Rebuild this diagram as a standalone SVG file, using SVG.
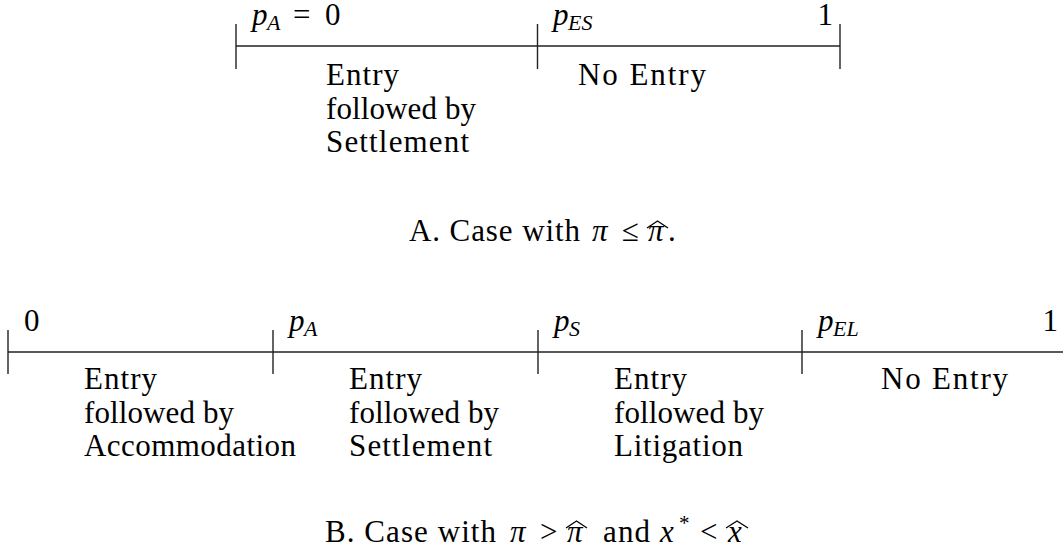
<svg xmlns="http://www.w3.org/2000/svg" width="1063" height="552" viewBox="0 0 1063 552">
<style>
text{font-family:'Liberation Serif';font-size:31px;fill:#000}
.it{font-style:italic}
.sub{font-style:italic;font-size:22px}
.ln{stroke:#222;stroke-width:1.4;fill:none}
.hat{stroke:#000;stroke-width:1.3;fill:none;stroke-linejoin:miter}
</style>
<rect width="1063" height="552" fill="#fff"/>
<g id="connectors">
<line class="ln" x1="236" y1="46" x2="840" y2="46"/>
<line class="ln" x1="236" y1="24" x2="236" y2="69"/>
<line class="ln" x1="537.5" y1="24" x2="537.5" y2="69"/>
<line class="ln" x1="840" y1="24" x2="840" y2="69"/>
<line class="ln" x1="8" y1="352" x2="1063" y2="352"/>
<line class="ln" x1="8" y1="330" x2="8" y2="374"/>
<line class="ln" x1="273" y1="330" x2="273" y2="374"/>
<line class="ln" x1="538" y1="330" x2="538" y2="374"/>
<line class="ln" x1="802" y1="330" x2="802" y2="374"/>
</g>
<g font-family="Liberation Serif">
<g id="topLabels">
<text x="252" y="25"><tspan class="it">p</tspan><tspan class="sub" x="267" dy="5">A</tspan><tspan x="293" dy="-5">=</tspan><tspan x="325">0</tspan></text>
<text x="553" y="25"><tspan class="it">p</tspan><tspan class="sub" x="568" dy="5">ES</tspan></text>
<text x="833" y="25" text-anchor="end">1</text>
</g>
<g id="topSeg1">
<text x="326" y="85" textLength="73" lengthAdjust="spacing">Entry</text>
<text x="326" y="119" textLength="150" lengthAdjust="spacing">followed by</text>
<text x="326" y="152" textLength="143" lengthAdjust="spacing">Settlement</text>
</g>
<g id="topSeg2">
<text x="578" y="85" textLength="128" lengthAdjust="spacing">No Entry</text>
</g>
<g id="captionA">
<text x="409" y="241"><tspan textLength="171" lengthAdjust="spacing">A. Case with</tspan><tspan class="it" x="592">π</tspan><tspan x="622">≤</tspan><tspan class="it" x="648">π</tspan><tspan x="668">.</tspan></text>
<polyline class="hat" points="647,228 657.5,221 668,228"/>
</g>
<g id="bottomLabels">
<text x="24" y="331">0</text>
<text x="289" y="331"><tspan class="it">p</tspan><tspan class="sub" x="304" dy="5">A</tspan></text>
<text x="554" y="331"><tspan class="it">p</tspan><tspan class="sub" x="569" dy="5">S</tspan></text>
<text x="818" y="331"><tspan class="it">p</tspan><tspan class="sub" x="833" dy="5">EL</tspan></text>
<text x="1058" y="331" text-anchor="end">1</text>
</g>
<g id="botSeg1">
<text x="84" y="389" textLength="73" lengthAdjust="spacing">Entry</text>
<text x="84" y="423" textLength="150" lengthAdjust="spacing">followed by</text>
<text x="84" y="456" textLength="212" lengthAdjust="spacing">Accommodation</text>
</g>
<g id="botSeg2">
<text x="349" y="389" textLength="73" lengthAdjust="spacing">Entry</text>
<text x="349" y="423" textLength="150" lengthAdjust="spacing">followed by</text>
<text x="349" y="456" textLength="143" lengthAdjust="spacing">Settlement</text>
</g>
<g id="botSeg3">
<text x="614" y="389" textLength="73" lengthAdjust="spacing">Entry</text>
<text x="614" y="423" textLength="150" lengthAdjust="spacing">followed by</text>
<text x="614" y="456" textLength="129" lengthAdjust="spacing">Litigation</text>
</g>
<g id="botSeg4">
<text x="881" y="389" textLength="127" lengthAdjust="spacing">No Entry</text>
</g>
<g id="captionB">
<text x="325" y="542"><tspan textLength="171" lengthAdjust="spacing">B. Case with</tspan><tspan class="it" x="510">π</tspan><tspan x="540">&gt;</tspan><tspan class="it" x="567">π</tspan><tspan x="603" textLength="47" lengthAdjust="spacing">and</tspan><tspan class="it" x="660">x</tspan><tspan x="679" dy="-12" font-size="21">*</tspan><tspan x="700" dy="12">&lt;</tspan><tspan class="it" x="728">x</tspan></text>
<polyline class="hat" points="566,528 576.5,521 587,528"/>
<polyline class="hat" points="726,528 737,521 748,528"/>
</g>
</g>
</svg>
